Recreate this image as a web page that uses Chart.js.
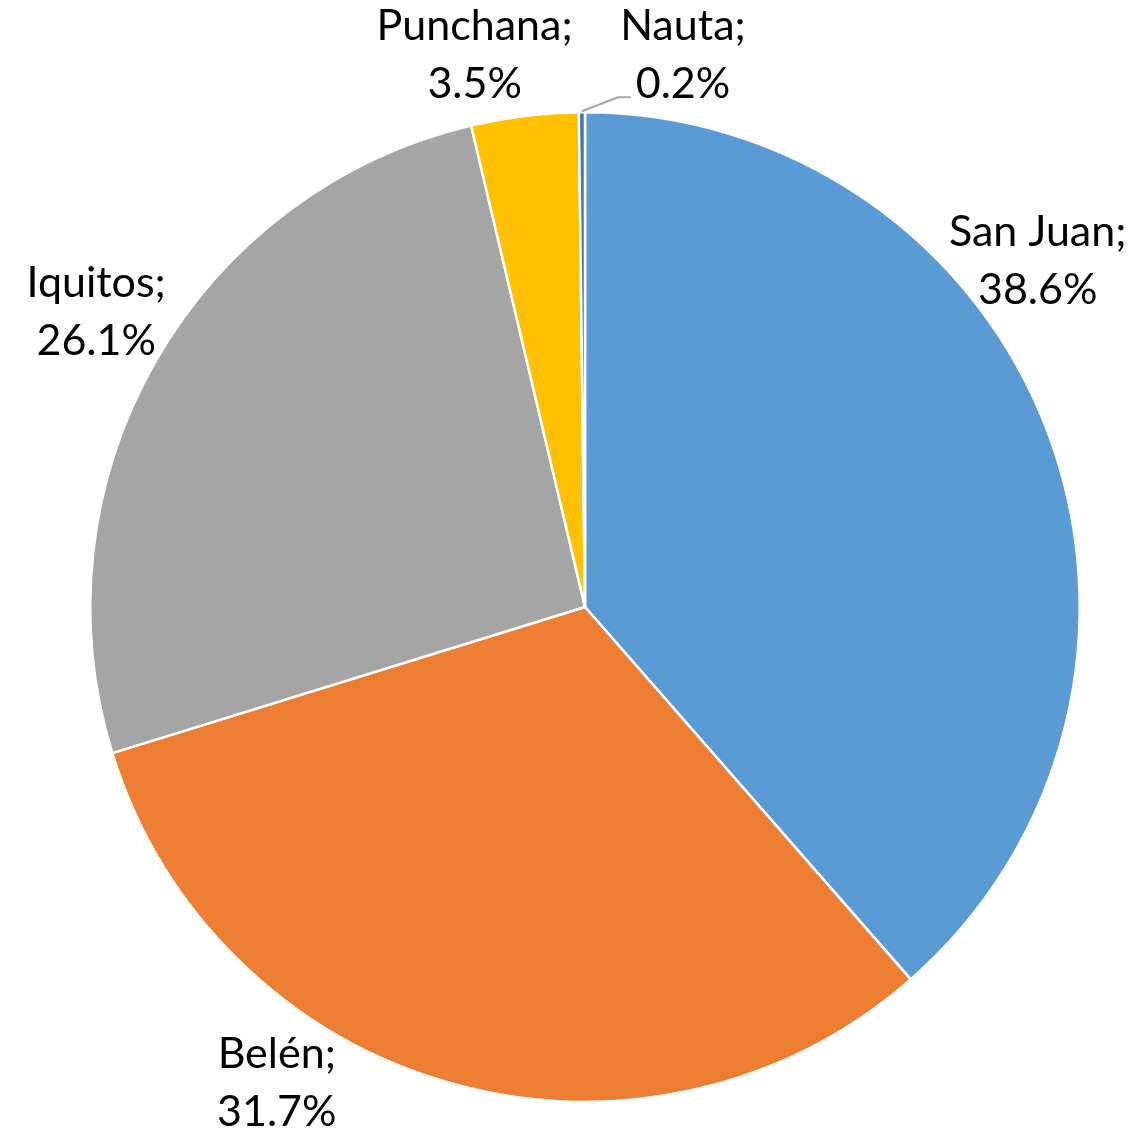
<!DOCTYPE html>
<html>
<head>
<meta charset="utf-8">
<script src="https://cdn.jsdelivr.net/npm/chart.js@4/dist/chart.umd.min.js"></script>
<style>
html,body{margin:0;padding:0;background:#fff;}
#wrap{width:1145px;height:1135px;}
</style>
</head>
<body>
<div id="wrap"><canvas id="c" width="1145" height="1135"></canvas></div>
<script>
const categories = ["San Juan", "Belén", "Iquitos", "Punchana", "Nauta"];
const shares = [38.6, 31.7, 26.1, 3.5, 0.2];
const percentLabels = ["38.6%", "31.7%", "26.1%", "3.5%", "0.2%"];
const sliceColors = ["#5B9BD5", "#ED7D31", "#A5A5A5", "#FFC000", "#4472C4"];

// label anchors relative to pie centre, in units of the pie radius (layout only)
const labelAnchors = [[0.915,-0.70],[-0.623,0.962],[-0.988,-0.597],[-0.223,-1.115],[0.198,-1.115]];

const FONT = "43px Lato, 'Open Sans', sans-serif";

const labelPlugin = {
  id: 'pieLabels',
  afterDatasetsDraw(chart) {
    const ctx = chart.ctx;
    const meta = chart.getDatasetMeta(0);
    const arc0 = meta.data[0];
    const cx = arc0.x, cy = arc0.y, r = arc0.outerRadius;
    ctx.save();
    ctx.font = FONT;
    ctx.fillStyle = '#000';
    ctx.textAlign = 'center';
    ctx.textBaseline = 'middle';
    const lh = 58;
    categories.forEach((name, i) => {
      const a = labelAnchors[i];
      const x = cx + a[0]*r, y = cy + a[1]*r;
      ctx.fillText(name + ';', x, y - lh/2);
      ctx.fillText(percentLabels[i], x, y + lh/2);
    });
    // leader line for the smallest slice (Nauta)
    const el = meta.data[4];
    const mid = (el.startAngle + el.endAngle)/2;
    const px = cx + Math.cos(mid)*r, py = cy + Math.sin(mid)*r;
    const a = labelAnchors[4];
    const lx = cx + a[0]*r - 52, ly = cy + a[1]*r + 42;
    ctx.strokeStyle = '#A6A6A6';
    ctx.lineWidth = 2;
    ctx.beginPath();
    ctx.moveTo(lx, ly);
    ctx.lineTo(lx - 13, ly);
    ctx.lineTo(px, py - 1);
    ctx.stroke();
    ctx.restore();
  }
};

new Chart(document.getElementById('c'), {
  type: 'pie',
  data: {
    labels: categories,
    datasets: [{
      data: shares,
      backgroundColor: sliceColors,
      borderColor: '#FFFFFF',
      borderWidth: 2.5,
      hoverOffset: 0
    }]
  },
  options: {
    responsive: false,
    animation: false,
    events: [],
    layout: { padding: { top: 111, bottom: 32, left: 89, right: 64 } },
    plugins: { legend: { display: false }, tooltip: { enabled: false } }
  },
  plugins: [labelPlugin]
});
</script>
</body>
</html>
